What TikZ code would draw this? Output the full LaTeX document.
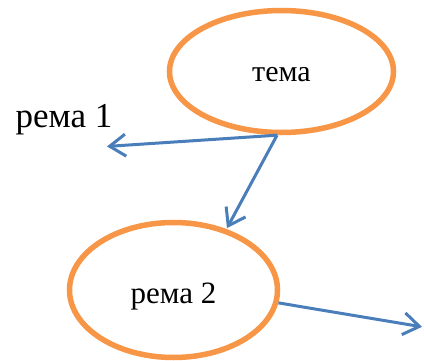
\documentclass[tikz,border=0pt]{standalone}
\usepackage{fontspec}
\setmainfont{Liberation Serif}
\usetikzlibrary{shapes.geometric,arrows.meta}
\definecolor{ellorange}{HTML}{F79646}
\definecolor{arrblue}{HTML}{4A7EBB}
\tikzset{
  oval/.style={ellipse, draw=ellorange, line width=5.5pt, inner sep=0pt, fill=white},
  conn/.style={draw=arrblue, line width=3pt,
    -{Straight Barb[length=16pt, width=22pt, line width=3pt]}, shorten >=1pt},
  lbl/.style={inner sep=0pt, text=black}
}
\begin{document}
\begin{tikzpicture}[x=1pt,y=-1pt]
\useasboundingbox (0,0) rectangle (424,361);
\node[oval, minimum width=224pt, minimum height=122pt] (tema) at (281.5,71.5)
  {\fontsize{30}{32}\selectfont\raisebox{-10pt}[0pt][0pt]{тема}};
\node[oval, minimum width=208pt, minimum height=135pt] (rema2) at (173.5,290)
  {\fontsize{31}{33}\selectfont\raisebox{-14pt}[0pt][0pt]{рема 2}};
\node[lbl, anchor=base, font=\fontsize{35}{37}\selectfont] (rema1) at (64,128) {рема 1};
\coordinate (e1) at (106,146.5);
\coordinate (e3) at (423,327);
\draw[conn] (tema.266) -- (e1);
\draw[conn] (tema.266) -- (rema2.49);
\draw[conn] (rema2.-7) -- (e3);
\end{tikzpicture}
\end{document}
